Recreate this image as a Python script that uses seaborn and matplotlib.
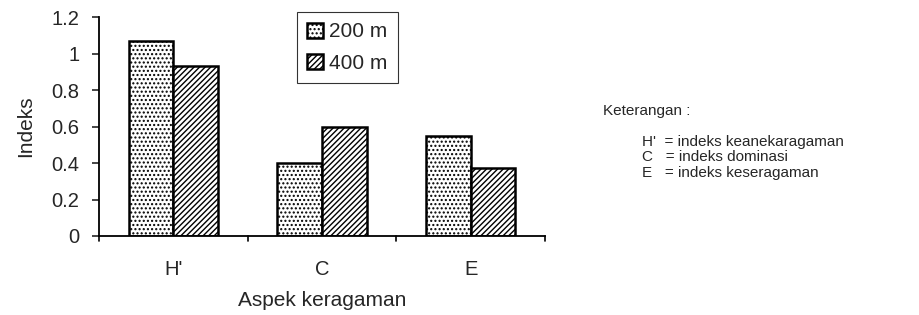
import matplotlib
matplotlib.use("Agg")
import matplotlib.pyplot as plt
import seaborn as sns
import pandas as pd

categories = ["H'", "C", "E"]
series_names = ["200 m", "400 m"]
values_200 = [1.07, 0.40, 0.55]
values_400 = [0.93, 0.60, 0.37]
yticks = [0, 0.2, 0.4, 0.6, 0.8, 1, 1.2]
ytick_labels = ["0", "0.2", "0.4", "0.6", "0.8", "1", "1.2"]

df = pd.DataFrame({
    "aspek": categories * 2,
    "indeks": values_200 + values_400,
    "jarak": [series_names[0]] * 3 + [series_names[1]] * 3,
})

sns.set_style("white")
plt.rcParams['font.family'] = ['Liberation Sans', 'DejaVu Sans']
plt.rcParams['hatch.linewidth'] = 1.0

fig = plt.figure(figsize=(9.19, 3.15), dpi=100)
ax = fig.add_axes([0.1077, 0.2508, 0.4853, 0.6952])

sns.barplot(data=df, x="aspek", y="indeks", hue="jarak", order=categories,
            hue_order=series_names, palette=["white", "white"],
            edgecolor="black", linewidth=1.8, width=0.6, gap=0, ax=ax,
            legend=False)

hatches = ["....", "//////"]
for cont, h in zip(ax.containers, hatches):
    for bar in cont:
        bar.set_hatch(h)

ax.set_ylim(0, 1.2)
ax.set_xlim(-0.5, 2.5)
ax.set_yticks(yticks)
ax.set_yticklabels(ytick_labels, fontsize=14.5)
ax.set_xticks([0, 1, 2])
ax.set_xticklabels(categories, fontsize=14.5)
ax.tick_params(axis='x', length=0, pad=17)
ax.tick_params(axis='y', length=5, width=1.2, pad=9, direction='out', left=True)
for xb in [-0.5, 0.5, 1.5, 2.5]:
    ax.plot([xb, xb], [0, -0.025], color='black', lw=1.2, clip_on=False)

for s in ["top", "right"]:
    ax.spines[s].set_visible(False)
for s in ["left", "bottom"]:
    ax.spines[s].set_color("black")
    ax.spines[s].set_linewidth(1.3)

ax.set_xlabel("Aspek keragaman", fontsize=15, labelpad=9)
ax.set_ylabel("Indeks", fontsize=15, labelpad=12)

handles = [ax.containers[0][0], ax.containers[1][0]]
leg = ax.legend(handles, series_names, loc="upper left",
                bbox_to_anchor=(297 / 919, 1 - 12 / 315), bbox_transform=fig.transFigure,
                frameon=True, fancybox=False, edgecolor="black", fontsize=15,
                handlelength=0.75, handleheight=0.75, handletextpad=0.3,
                borderpad=0.5, labelspacing=0.6, borderaxespad=0)
leg.get_frame().set_linewidth(0.8)

fig.text(603 / 919, 1 - 111 / 315, "Keterangan :", fontsize=11, va="center")
fig.text(642 / 919, 1 - 142 / 315, "H'  = indeks keanekaragaman", fontsize=11, va="center")
fig.text(642 / 919, 1 - 157 / 315, "C   = indeks dominasi", fontsize=11, va="center")
fig.text(642 / 919, 1 - 173 / 315, "E   = indeks keseragaman", fontsize=11, va="center")

fig.savefig("out.png", dpi=100)
